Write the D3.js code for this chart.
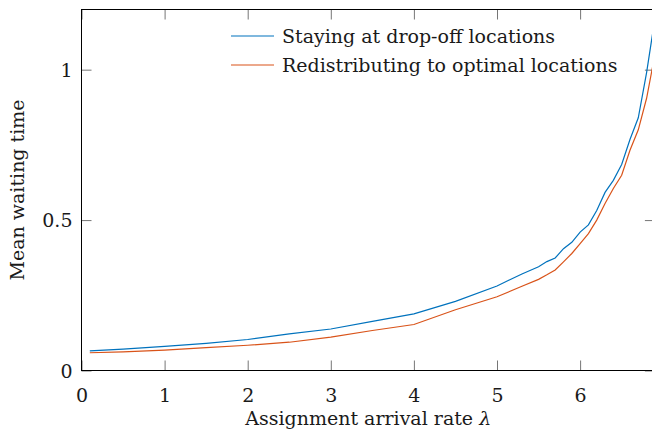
<!DOCTYPE html>
<html>
<head>
<meta charset="utf-8">
<script src="https://cdn.jsdelivr.net/npm/d3@7"></script>
<style>
  body { margin: 0; background: #fff; }
  svg text { font-family: "DejaVu Serif", serif; fill: #1a1a1a; }
</style>
</head>
<body>
<div id="chart"></div>
<script>
// arrival rate lambda
var lambda = [0.1, 0.5, 1.0, 1.5, 2.0, 2.5, 3.0, 3.5, 4.0, 4.5, 5.0, 5.3, 5.5, 5.6, 5.7,
              5.8, 5.9, 6.0, 6.1, 6.2, 6.3, 6.4, 6.5, 6.6, 6.7, 6.8, 6.9];
var staying = [0.065, 0.071, 0.080, 0.090, 0.103, 0.122, 0.138, 0.163, 0.188, 0.230, 0.281,
               0.321, 0.345, 0.362, 0.374, 0.405, 0.426, 0.460, 0.484, 0.532, 0.592, 0.632,
               0.685, 0.768, 0.840, 0.990, 1.170];
var redistributing = [0.059, 0.062, 0.068, 0.076, 0.084, 0.094, 0.111, 0.133, 0.153, 0.202,
                      0.245, 0.280, 0.303, 0.318, 0.334, 0.361, 0.389, 0.422, 0.455, 0.500,
                      0.555, 0.605, 0.649, 0.732, 0.800, 0.905, 1.050];
var seriesNames = ["Staying at drop-off locations", "Redistributing to optimal locations"];
var seriesColors = ["#0072bd", "#d95319"];
var xTicks = [0, 1, 2, 3, 4, 5, 6];
var yTicks = [0, 0.5, 1];

(function () {
    "use strict";
    var W = 652, H = 430, FONT = '"DejaVu Serif", serif', FS = 19;
    var left = 81.5, top = 9.5, right = 654.9, bottom = 370.5;

    var svg = d3.select('#chart').append('svg').attr('width', W).attr('height', H);

    var x = d3.scaleLinear().domain([0, 6.9]).range([left, right]);
    var y = d3.scaleLinear().domain([0, 1.2]).range([bottom, top]);

    // inward ticks on all four sides
    function tickAxis(axis, transform) {
        var g = svg.append('g').attr('transform', transform).call(axis);
        g.select('.domain').remove();
        g.attr('font-family', FONT);
        g.selectAll('.tick line').attr('stroke', '#666').attr('stroke-width', 0.9);
        return g;
    }
    var gx = tickAxis(d3.axisBottom(x).tickValues(xTicks).tickFormat(d3.format('')).tickSizeInner(-10).tickSizeOuter(0),
        'translate(0,' + bottom + ')');
    gx.selectAll('.tick text').attr('y', 31).attr('dy', 0)
        .attr('font-size', FS).attr('fill', '#1a1a1a');
    var gy = tickAxis(d3.axisLeft(y).tickValues(yTicks).tickFormat(d3.format('')).tickSizeInner(-10).tickSizeOuter(0),
        'translate(' + left + ',0)');
    gy.selectAll('.tick text').attr('x', -9).attr('dy', '0.36em')
        .attr('font-size', FS).attr('fill', '#1a1a1a');
    tickAxis(d3.axisTop(x).tickValues(xTicks).tickFormat('').tickSizeInner(-10).tickSizeOuter(0),
        'translate(0,' + top + ')');
    tickAxis(d3.axisRight(y).tickValues(yTicks).tickFormat('').tickSizeInner(-10).tickSizeOuter(0),
        'translate(' + right + ',0)');

    // box
    svg.append('rect')
        .attr('x', left).attr('y', top)
        .attr('width', right - left).attr('height', bottom - top)
        .attr('fill', 'none').attr('stroke', '#000').attr('stroke-width', 1);

    // curves
    var line = d3.line()
        .x(function (d) { return x(d[0]); })
        .y(function (d) { return y(d[1]); });
    [staying, redistributing].forEach(function (vals, k) {
        svg.append('path')
            .datum(lambda.map(function (l, i) { return [l, vals[i]]; }))
            .attr('d', line)
            .attr('fill', 'none')
            .attr('stroke', seriesColors[k])
            .attr('stroke-width', 1.2);
    });

    // legend (no frame)
    var lg = svg.append('g');
    seriesNames.forEach(function (name, k) {
        var ly = 36 + k * 29;
        lg.append('line')
            .attr('x1', 231).attr('x2', 274).attr('y1', ly).attr('y2', ly)
            .attr('stroke', seriesColors[k]).attr('stroke-width', 1.2);
        lg.append('text')
            .attr('x', 282).attr('y', ly + 6.5)
            .attr('font-size', FS)
            .text(name);
    });

    // axis titles
    var xt = svg.append('text')
        .attr('x', (left + right) / 2).attr('y', 425)
        .attr('text-anchor', 'middle').attr('font-size', FS);
    xt.append('tspan').text('Assignment arrival rate ');
    xt.append('tspan').attr('font-style', 'italic').text('λ');

    svg.append('text')
        .attr('transform', 'translate(24,' + (top + bottom) / 2 + ') rotate(-90)')
        .attr('text-anchor', 'middle').attr('font-size', FS)
        .text('Mean waiting time');
}());
</script>
</body>
</html>
